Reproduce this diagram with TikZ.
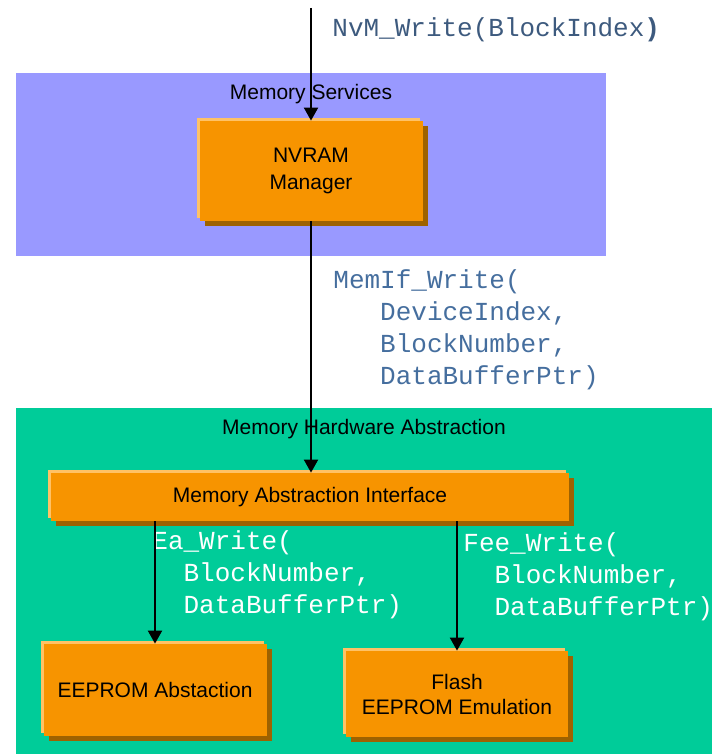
\documentclass[tikz,border=0pt]{standalone}
\usepackage{fontspec}
\setmainfont{Liberation Sans}
\setmonofont{Liberation Mono}
\usepackage{xcolor}
\usepackage{tikz}
\usetikzlibrary{arrows.meta, positioning, shadows}
\definecolor{nvmBlue}{HTML}{9999FF}
\definecolor{nvmGreen}{HTML}{00CC99}
\definecolor{nvmOrange}{HTML}{F79400}
\definecolor{nvmRim}{HTML}{FFC266}
\definecolor{nvmShade}{HTML}{9E6200}
\definecolor{nvmCode}{HTML}{456E9E}
\definecolor{nvmCodeDark}{HTML}{3D5A7E}
\tikzset{
  nvm/layer/.style  = {rectangle, draw=none, inner sep=0pt},
  nvm/title/.style  = {font=\fontsize{10.5}{13}\selectfont, text=black, inner sep=0pt},
  nvm/box/.style    = {rectangle, fill=nvmOrange, align=center, inner sep=0pt,
                       font=\fontsize{10.5}{13.5}\selectfont,
                       drop shadow={fill=nvmShade, opacity=1, shadow xshift=2.5pt, shadow yshift=-2.5pt},
                       general shadow={fill=nvmRim, shadow xshift=-1.5pt, shadow yshift=1.5pt}},
  nvm/code/.style   = {font=\ttfamily\fontsize{13}{16}\selectfont, align=left, inner sep=0pt, anchor=west},
  nvm/arrow/.style  = {-{Triangle[length=6.5pt,width=7pt]}, line width=1pt, draw=black},
}
\begin{document}
\begin{tikzpicture}[x=0.5pt, y=-0.5pt]
      \useasboundingbox (0,0) rectangle (712,754);
      % layers
      \node[nvm/layer, fill=nvmBlue, minimum width=295pt, minimum height=91.5pt] (services) at (311,164.5) {};
      \node[nvm/layer, fill=nvmGreen, minimum width=348pt, minimum height=173pt] (hwabs) at (364,581) {};
      \node[nvm/title] (servicestitle) at (311,94) {Memory Services};
      \node[nvm/title] (hwabstitle) at (364,429) {Memory Hardware Abstraction};
      % modules
      \node[nvm/box, minimum width=111.5pt, minimum height=50pt] (nvram) at (311,171) {NVRAM\\Manager};
      \node[nvm/box, minimum width=259pt, minimum height=24pt] (memif) at (310,497) {Memory Abstraction Interface};
      \node[nvm/box, minimum width=111.5pt, minimum height=46pt] (ea) at (155,690) {EEPROM Abstaction};
      \node[nvm/box, minimum width=111pt, minimum height=43pt, font=\fontsize{10.5}{12.5}\selectfont] (fee) at (457,694)
            {Flash\\EEPROM Emulation};
      % api calls
      \node[nvm/code, text=nvmCodeDark] (nvmcall) at (332,30) {NvM\_Write(BlockIndex\textbf{)}};
      \node[nvm/code, text=nvmCode] (memifcall) at (333,329.5)
            {MemIf\_Write(\\~~~DeviceIndex,\\~~~BlockNumber,\\~~~DataBufferPtr)};
      \node[nvm/code, text=white] (eacall) at (152,575)
            {Ea\_Write(\\~~BlockNumber,\\~~DataBufferPtr)};
      \node[nvm/code, text=white] (feecall) at (463,577)
            {Fee\_Write(\\~~BlockNumber,\\~~DataBufferPtr)};
      % arrows
      \coordinate (caller) at (311,8);
      \draw[nvm/arrow] (caller) -- (caller |- nvram.north);
      \draw[nvm/arrow] (nvram) -- (nvram |- memif.north);
      \draw[nvm/arrow] (memif.south -| ea) -- (ea);
      \draw[nvm/arrow] (memif.south -| fee) -- (fee);
\end{tikzpicture}
\end{document}
